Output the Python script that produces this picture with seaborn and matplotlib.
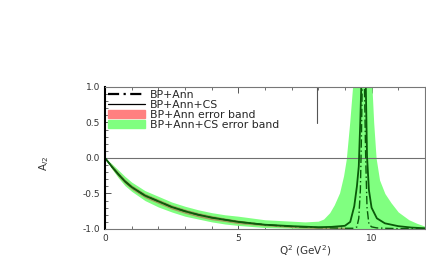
import numpy as np
import pandas as pd
import matplotlib
matplotlib.use("Agg")
import matplotlib.pyplot as plt
from matplotlib.lines import Line2D
from matplotlib.patches import Patch
import seaborn as sns

# Data
q2 = [0, 0.25, 0.5, 0.75, 1, 1.5, 2, 2.5, 3, 3.5, 4, 4.5, 5, 6, 7, 8, 8.5, 9,
      9.2, 9.35, 9.45, 9.52, 9.58, 9.62, 9.66, 9.72, 9.78, 9.83, 9.9, 10.0,
      10.2, 10.5, 11, 11.5, 12]
a_ann = [0, -0.12, -0.23, -0.33, -0.41, -0.53, -0.61, -0.69, -0.75, -0.80,
         -0.84, -0.87, -0.90, -0.94, -0.965, -0.98, -0.985, -0.99,
         -0.99, -0.99, -0.97, -0.85, -0.45, 0.3, 1.3, 1.3, 0.0, -0.7, -0.93,
         -0.97, -0.985, -0.99, -0.995, -0.995, -0.995]
a_cs = [0, -0.12, -0.23, -0.33, -0.41, -0.53, -0.61, -0.69, -0.75, -0.80,
        -0.84, -0.87, -0.90, -0.94, -0.96, -0.975, -0.97, -0.955,
        -0.90, -0.68, -0.40, -0.12, 0.55, 1.1, 1.3, 1.3, 1.1, 0.02, -0.45,
        -0.70, -0.85, -0.92, -0.96, -0.98, -0.99]

# BP+Ann error band
ann_q2 = [0, 0.25, 0.5, 0.75, 1, 1.5, 2, 2.5, 3, 3.5, 4, 4.5, 5, 6, 7, 8, 8.5, 9]
ann_hi = [0, -0.095, -0.20, -0.30, -0.38, -0.50, -0.58, -0.66, -0.72, -0.77,
          -0.81, -0.845, -0.875, -0.925, -0.95, -0.965, -0.97, -0.975]
ann_lo = [0, -0.145, -0.26, -0.36, -0.44, -0.56, -0.64, -0.72, -0.78, -0.83,
          -0.87, -0.895, -0.925, -0.955, -0.98, -0.995, -1.0, -1.0]

# BP+Ann+CS error band
cs_q2 = [0, 0.25, 0.5, 0.75, 1, 1.5, 2, 2.5, 3, 3.5, 4, 4.5, 5, 6, 7, 7.5, 8,
         8.2, 8.43, 8.6, 8.8, 8.95, 9.05, 9.18, 9.33, 9.99, 10.08, 10.17,
         10.3, 10.5, 10.73, 11.0, 11.4, 11.7, 12]
cs_hi = [0, -0.08, -0.17, -0.26, -0.34, -0.46, -0.54, -0.62, -0.68, -0.73,
         -0.77, -0.80, -0.82, -0.87, -0.89, -0.90, -0.89, -0.86, -0.77, -0.66,
         -0.49, -0.25, -0.02, 0.5, 1.2, 1.2, 0.5, 0.0, -0.31, -0.50, -0.63,
         -0.76, -0.87, -0.92, -0.96]
cs_lo = [0, -0.15, -0.28, -0.39, -0.47, -0.60, -0.69, -0.76, -0.82, -0.86,
         -0.90, -0.93, -0.95, -0.98, -0.99, -0.995, -1.02, -1.02, -1.02, -1.02,
         -1.02, -1.02, -1.02, -1.02, -1.02, -1.02, -1.02, -1.02, -1.02, -1.02,
         -1.02, -1.02, -1.02, -1.02, -1.02]

lines = pd.DataFrame({"q2": q2, "ann": a_ann, "cs": a_cs})

sns.set_style("ticks")
plt.rcParams['font.family'] = ['DejaVu Sans']

fig = plt.figure(figsize=(4.27, 2.62), dpi=100)
ax = fig.add_axes([0.246, 0.126, 0.749, 0.542])

ax.fill_between(cs_q2, cs_lo, cs_hi, color='#80ff80', lw=0)
ax.fill_between(ann_q2, ann_lo, ann_hi, color='#c04040', alpha=0.5, lw=0)
ax.axhline(0, color='#707070', lw=0.8)

line_col = '#0a5a0a'
sns.lineplot(data=lines, x="q2", y="cs", ax=ax, color=line_col, lw=1.3)
sns.lineplot(data=lines, x="q2", y="ann", ax=ax, color=line_col, lw=1.0,
             linestyle=(0, (6, 2, 1, 2)))

ax.set_xlim(0, 12)
ax.set_ylim(-1, 1)
ax.set_xticks([0, 5, 10])
ax.set_xticks(np.arange(0, 13, 1), minor=True)
ax.set_yticks([-1.0, -0.5, 0.0, 0.5, 1.0])
ax.set_yticks(np.arange(-1, 1.01, 0.1), minor=True)
ax.tick_params(which='both', direction='in', top=True, right=False,
               labelsize=6.5, labelcolor='#333333', color='#555555')
ax.tick_params(which='major', length=4, width=0.7)
ax.tick_params(which='minor', length=2.5, width=0.6)
ax.set_yticklabels(['-1.0', '-0.5', '0.0', '0.5', '1.0'])

for s in ['top', 'bottom', 'right']:
    ax.spines[s].set_color('#777777')
    ax.spines[s].set_linewidth(0.8)
ax.spines['left'].set_color('black')
ax.spines['left'].set_linewidth(1.5)

ax.set_xlabel(r'Q$^2$ (GeV$^2$)', fontsize=7.5, color='#333333')
ax.xaxis.set_label_coords(0.625, -0.1)
ax.set_ylabel(r'A$_{l2}$', fontsize=7.5, color='#333333')
ax.yaxis.set_label_coords(-0.17, 0.46)

handles = [Line2D([], [], color='black', lw=1.6, linestyle=(0, (5, 2, 1, 2))),
           Line2D([], [], color='black', lw=0.9),
           Patch(color='#ff8080'),
           Patch(color='#80ff80')]
labels = ['BP+Ann', 'BP+Ann+CS', 'BP+Ann error band', 'BP+Ann+CS error band']
ax.legend(handles, labels, loc='upper left', bbox_to_anchor=(0.0, 1.0),
          frameon=False, fontsize=7.8, handlelength=3.4, handleheight=0.8,
          handletextpad=0.5, labelspacing=0.0, borderaxespad=0.15,
          borderpad=0.1)
ax.plot([0.6625, 0.6625], [1.0, 0.746], transform=ax.transAxes,
        color='#555555', lw=0.8)

fig.savefig('out.png', dpi=100)
